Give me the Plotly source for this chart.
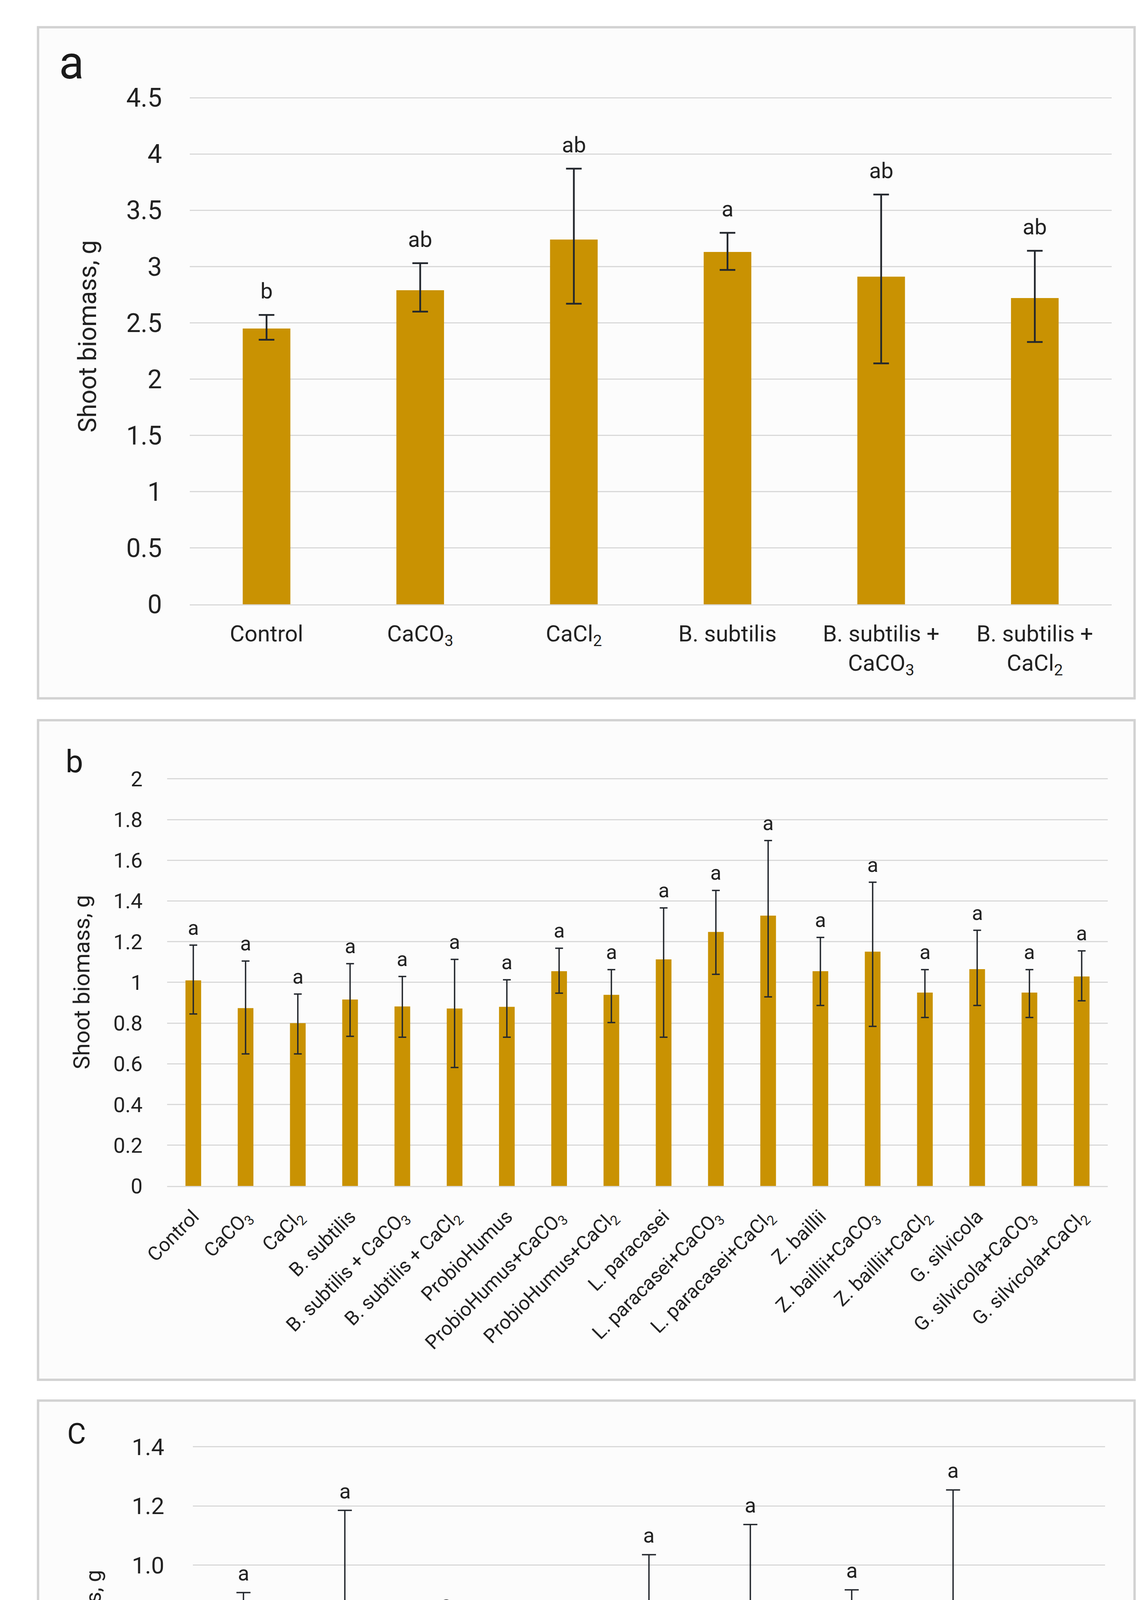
import plotly.graph_objects as go
from plotly.subplots import make_subplots

W, H = 2940, 5390
PAD = 8  # default body margin of the html page
FW, FH = W - 2 * PAD, H - 2 * PAD

# --- Panel a: six treatments ---
cats_a = ["Control", "CaCO<sub>3</sub>", "CaCl<sub>2</sub>", "B. subtilis",
          "B. subtilis +<br>CaCO<sub>3</sub>", "B. subtilis +<br>CaCl<sub>2</sub>"]
mean_a = [2.45, 2.79, 3.24, 3.13, 2.91, 2.72]
err_up_a = [0.12, 0.24, 0.63, 0.17, 0.73, 0.42]
err_lo_a = [0.10, 0.19, 0.57, 0.16, 0.77, 0.39]
letters_a = ["b", "ab", "ab", "a", "ab", "ab"]

# --- Panel b: eighteen treatments ---
cats_b = ["Control", "CaCO<sub>3</sub>", "CaCl<sub>2</sub>", "B. subtilis",
          "B. subtilis + CaCO<sub>3</sub>", "B. subtilis + CaCl<sub>2</sub>",
          "ProbioHumus", "ProbioHumus+CaCO<sub>3</sub>", "ProbioHumus+CaCl<sub>2</sub>",
          "L. paracasei", "L. paracasei+CaCO<sub>3</sub>", "L. paracasei+CaCl<sub>2</sub>",
          "Z. baillii", "Z. baillii+CaCO<sub>3</sub>", "Z. baillii+CaCl<sub>2</sub>",
          "G. silvicola", "G. silvicola+CaCO<sub>3</sub>", "G. silvicola+CaCl<sub>2</sub>"]
mean_b = [1.010, 0.874, 0.800, 0.916, 0.882, 0.872, 0.880, 1.055, 0.939,
          1.113, 1.248, 1.328, 1.055, 1.151, 0.950, 1.065, 0.950, 1.029]
err_up_b = [0.173, 0.231, 0.143, 0.176, 0.147, 0.241, 0.133, 0.113, 0.124,
            0.253, 0.204, 0.369, 0.166, 0.341, 0.113, 0.191, 0.113, 0.126]
err_lo_b = [0.165, 0.225, 0.151, 0.181, 0.151, 0.290, 0.149, 0.108, 0.136,
            0.382, 0.208, 0.399, 0.168, 0.367, 0.122, 0.178, 0.122, 0.119]
letters_b = ["a"] * 18

# --- Panel c: nine treatments ---
cats_c = ["Control", "CaCO<sub>3</sub>", "CaCl<sub>2</sub>", "B. subtilis",
          "B. subtilis + CaCO<sub>3</sub>", "B. subtilis + CaCl<sub>2</sub>",
          "ProbioHumus", "ProbioHumus + CaCO<sub>3</sub>", "ProbioHumus + CaCl<sub>2</sub>"]
mean_c = [0.734, 0.758, 0.734, 0.543, 0.765, 0.842, 0.865, 0.857, 0.645]
err_up_c = [0.173, 0.427, 0.071, 0.089, 0.270, 0.295, 0.051, 0.397, 0.104]
err_lo_c = [0.169, 0.424, 0.069, 0.081, 0.257, 0.292, 0.047, 0.403, 0.095]
letters_c = ["a"] * 9
yticks_c = [0, 0.2, 0.4, 0.6, 0.8, 1.0, 1.2, 1.4]
yticklabels_c = ["0", "0.2", "0.4", "0.6", "0.8", "1.0", "1.2", "1.4"]

BAR = "#C99202"
ERR = "#23272d"
GRID = "#D9D9D9"
TXT = "#222222"
FONT = "Roboto"


def px_x(x):
    # page pixel -> paper fraction
    return (x - PAD) / FW


def px_y(y):
    return 1 - (y - PAD) / FH


# panel settings: plot box in page pixels (left, top, right, bottom)
panels = [
    dict(cats=cats_a, mean=mean_a, up=err_up_a, lo=err_lo_a, letters=letters_a,
         box=(432, 218, 2845, 1533), frame=(35, 35, 2905, 1777), ymax=4.5, dtick=0.5,
         bw=0.31, cap=20, thick=4.5, tick_fs=66, xtick_fs=58, ang=0, let_fs=56,
         let_shift=26, std_y=70, std_x=22, title_xy=(165, 838), title_fs=64,
         tag="a", tag_xy=(122, 128), tag_fs=118),
    dict(cats=cats_b, mean=mean_b, up=err_up_b, lo=err_lo_b, letters=letters_b,
         box=(373, 1986, 2835, 3043), frame=(35, 1834, 2905, 3546), ymax=2, dtick=0.2,
         bw=0.30, cap=10, thick=3.5, tick_fs=54, xtick_fs=50, ang=-45, let_fs=52,
         let_shift=12, std_y=62, std_x=26, title_xy=(150, 2514), title_fs=58,
         tag="b", tag_xy=(130, 1942), tag_fs=80),
    dict(cats=cats_c, mean=mean_c, up=err_up_c, lo=err_lo_c, letters=letters_c,
         box=(440, 3720, 2828, 4794), frame=(35, 3600, 2905, 5352), ymax=1.4, dtick=0.2,
         bw=0.29, cap=18, thick=3.5, tick_fs=60, xtick_fs=53, ang=-40, let_fs=54,
         let_shift=16, std_y=72, std_x=34, title_xy=(180, 4258), title_fs=56,
         tag="C", tag_xy=(136, 3686), tag_fs=74),
]

fig = make_subplots(rows=3, cols=1)

shapes = []
annotations = []
for i, p in enumerate(panels, start=1):
    fig.add_trace(go.Bar(
        x=p["cats"], y=p["mean"],
        marker=dict(color=BAR, line=dict(width=0)),
        width=p["bw"],
        error_y=dict(type="data", symmetric=False, array=p["up"], arrayminus=p["lo"],
                     color=ERR, thickness=p["thick"], width=p["cap"]),
        showlegend=False,
    ), row=i, col=1)

    l, t, r, b = p["box"]
    xa = "xaxis" if i == 1 else f"xaxis{i}"
    ya = "yaxis" if i == 1 else f"yaxis{i}"
    fig.layout[xa].update(
        domain=[px_x(l), px_x(r)], showgrid=False, zeroline=False,
        showline=True, linecolor=GRID, linewidth=3, ticks="",
        tickangle=p["ang"], ticklabelstandoff=p["std_x"],
        tickfont=dict(family=FONT, size=p["xtick_fs"], color=TXT),
    )
    # a hair above the top tick so its gridline is still drawn
    top = p["ymax"] * 1.002
    yopts = dict(
        domain=[px_y(b), px_y(t) + 0.002 * (px_y(t) - px_y(b))], range=[0, top],
        showgrid=True, gridcolor=GRID, gridwidth=3, zeroline=False, showline=False,
        ticks="", ticklabelstandoff=p["std_y"],
        tickfont=dict(family=FONT, size=p["tick_fs"], color=TXT),
    )
    if i == 3:
        yopts.update(tickvals=yticks_c, ticktext=yticklabels_c)
    else:
        yopts.update(dtick=p["dtick"], tick0=0)
    fig.layout[ya].update(**yopts)

    # panel frame
    fx0, fy0, fx1, fy1 = p["frame"]
    shapes.append(dict(type="rect", xref="paper", yref="paper",
                       x0=px_x(fx0), x1=px_x(fx1), y0=px_y(fy1), y1=px_y(fy0),
                       line=dict(color="#D2D2D2", width=6), fillcolor="#FCFCFC",
                       layer="below"))

    # significance letters
    xref = "x" if i == 1 else f"x{i}"
    yref = "y" if i == 1 else f"y{i}"
    for c, m, u, s in zip(p["cats"], p["mean"], p["up"], p["letters"]):
        annotations.append(dict(x=c, y=m + u, xref=xref, yref=yref, text=s,
                                showarrow=False, yanchor="bottom", yshift=p["let_shift"],
                                font=dict(family=FONT, size=p["let_fs"], color=TXT)))

    # axis title
    tx, ty = p["title_xy"]
    annotations.append(dict(x=px_x(tx), y=px_y(ty), xref="paper", yref="paper",
                            text="Shoot biomass, g", textangle=-90, showarrow=False,
                            xanchor="center", yanchor="middle",
                            font=dict(family=FONT, size=p["title_fs"], color=TXT)))

    # panel tag
    gx, gy = p["tag_xy"]
    annotations.append(dict(x=px_x(gx), y=px_y(gy), xref="paper", yref="paper",
                            text=p["tag"], showarrow=False, xanchor="center",
                            yanchor="middle",
                            font=dict(family=FONT, size=p["tag_fs"], color="#1a1a1a")))

fig.update_layout(
    width=FW, height=FH, autosize=False,
    margin=dict(l=0, r=0, t=0, b=0),
    paper_bgcolor="white", plot_bgcolor="rgba(0,0,0,0)",
    shapes=shapes, annotations=annotations,
    bargap=0.7, showlegend=False,
    font=dict(family=FONT, color=TXT),
)

fig.write_html("out.html")
